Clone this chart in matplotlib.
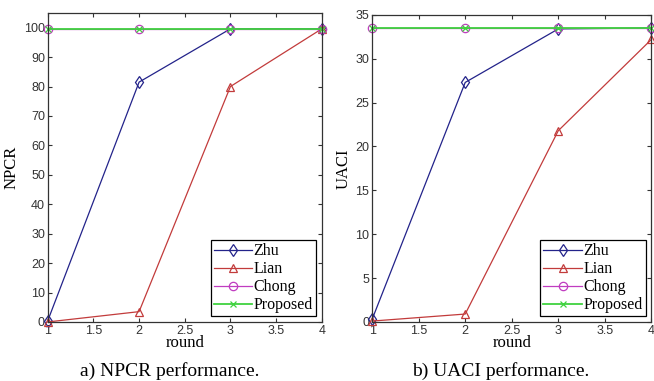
import matplotlib
matplotlib.use("Agg")
import matplotlib.pyplot as plt

# data
rounds = [1, 2, 3, 4]
npcr_zhu = [0.4, 81.5, 99.6, 99.6]
npcr_lian = [0.0, 3.5, 80.0, 99.6]
npcr_chong = [99.6, 99.6, 99.6, 99.6]
npcr_prop = [99.6, 99.6, 99.6, 99.6]

uaci_zhu = [0.3, 27.3, 33.4, 33.5]
uaci_lian = [0.1, 0.9, 21.8, 32.2]
uaci_chong = [33.5, 33.5, 33.5, 33.5]
uaci_prop = [33.5, 33.5, 33.5, 33.5]

names = ['Zhu', 'Lian', 'Chong', 'Proposed']
colors = ['#23238a', '#c23b3b', '#c03cc0', '#3fd23f']
markers = ['d', '^', 'o', 'x']

serif = 'Liberation Serif'
sans = 'Liberation Sans'

fig = plt.figure(figsize=(6.54, 3.81), dpi=100)
ax1 = fig.add_axes([0.073, 0.155, 0.419, 0.811])
ax2 = fig.add_axes([0.569, 0.155, 0.427, 0.806])


def draw(ax, series, ylim, yticks, ylabel, caption, cap_x):
    for vals, name, c, m in zip(series, names, colors, markers):
        ax.plot(rounds, vals, color=c, marker=m, markersize=6 if m != 'x' else 4,
                markerfacecolor='none', markeredgewidth=0.9,
                linewidth=1.3 if m == 'x' else 0.9,
                label=name, clip_on=False)
    ax.set_xlim(1, 4)
    ax.set_ylim(*ylim)
    ax.set_xticks([1, 1.5, 2, 2.5, 3, 3.5, 4])
    ax.set_xticklabels(['1', '1.5', '2', '2.5', '3', '3.5', '4'])
    ax.set_yticks(yticks)
    ax.tick_params(direction='in', top=True, right=True, length=3, pad=2,
                   labelsize=9, colors='#333333')
    for lab in ax.get_xticklabels() + ax.get_yticklabels():
        lab.set_fontfamily(sans)
    for s in ax.spines.values():
        s.set_color('#333333')
        s.set_linewidth(0.9)
    ax.set_ylabel(ylabel, fontfamily=serif, fontsize=12, labelpad=3)
    ax.set_xlabel('round', fontfamily=serif, fontsize=12, labelpad=-1)
    leg = ax.legend(loc='lower right', prop={'family': serif, 'size': 11.5},
                    fancybox=False, edgecolor='black', framealpha=1,
                    borderpad=0.2, labelspacing=0.12, handlelength=2.4,
                    handletextpad=0.1, borderaxespad=0.35)
    leg.get_frame().set_linewidth(0.9)
    fig.text(cap_x, 0.025, caption, fontfamily=serif, fontsize=14,
             ha='center', va='center')


draw(ax1, [npcr_zhu, npcr_lian, npcr_chong, npcr_prop], (0, 105),
     range(0, 101, 10), 'NPCR', 'a) NPCR performance.', 0.26)
draw(ax2, [uaci_zhu, uaci_lian, uaci_chong, uaci_prop], (0, 35),
     range(0, 36, 5), 'UACI', 'b) UACI performance.', 0.765)

fig.savefig('out.png', dpi=100)
